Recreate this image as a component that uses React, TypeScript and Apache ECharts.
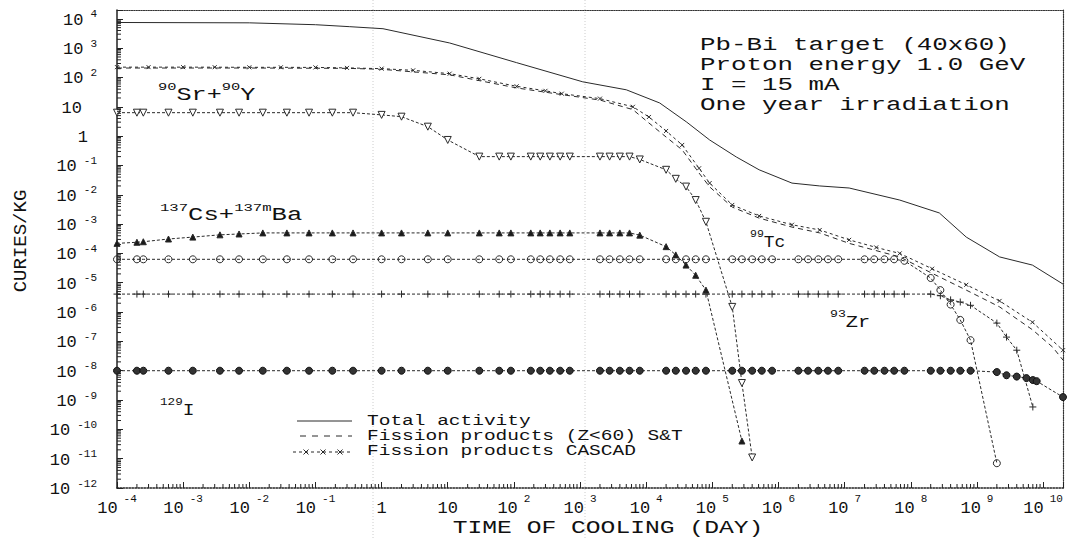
import React, { useEffect, useRef } from "react";
import * as echarts from "echarts";

// ---------- axes ----------
const X_MIN = 1e-4;
const X_MAX = 2e10;
const Y_MIN = 1e-12;
const Y_MAX = 2e4;
const xDecades = [-4, -3, -2, -1, 0, 1, 2, 3, 4, 5, 6, 7, 8, 9, 10];
const yDecades = [-12, -11, -10, -9, -8, -7, -6, -5, -4, -3, -2, -1, 0, 1, 2, 3, 4];

// ---------- data (time of cooling in days, activity in Ci/kg) ----------
const times = [
  1e-4, 2e-4, 2.5e-4, 6e-4, 1.4e-3, 3.6e-3, 7e-3, 1.6e-2, 3.7e-2, 8e-2,
  0.18, 0.37, 1, 2, 5, 10, 30, 60, 90, 180,
  250, 350, 500, 700, 2e3, 2.8e3, 4e3, 5.6e3, 8e3, 2e4,
  2.8e4, 4e4, 5.6e4, 8e4, 2e5, 2.8e5, 4e5, 5.6e5, 8e5, 2e6,
  2.8e6, 4e6, 5.6e6, 8e6, 2e7, 2.8e7, 4e7, 5.6e7, 8e7, 2e8,
  2.8e8, 4e8, 5.6e8, 8e8, 2e9, 2.8e9, 4e9, 5.6e9, 7e9, 8e9,
  2e10,
];

const srY = [
  6.3, 6.3, 6.3, 6.3, 6.3, 6.3, 6.3, 6.3, 6.3, 6.3,
  6.3, 6.3, 5.3, 4.6, 2.1, 0.74, 0.2, 0.2, 0.2, 0.2,
  0.2, 0.2, 0.2, 0.2, 0.2, 0.2, 0.2, 0.2, 0.16, 0.071,
  0.035, 0.019, 0.0066, 0.0012, 1.5e-6, 3.8e-9, 1.1e-11, null, null, null,
  null, null, null, null, null, null, null, null, null, null,
  null, null, null, null, null, null, null, null, null, null,
  null,
];

const csBa = [
  2.2e-4, 2.4e-4, 2.5e-4, 3.1e-4, 3.6e-4, 4.3e-4, 4.6e-4, 5e-4, 5e-4, 5e-4,
  5e-4, 5e-4, 5e-4, 5e-4, 5e-4, 5e-4, 5e-4, 5e-4, 5e-4, 5e-4,
  5e-4, 5e-4, 5e-4, 5e-4, 5e-4, 5e-4, 5e-4, 5e-4, 4.2e-4, 1.7e-4,
  8.9e-5, 4e-5, 1.8e-5, 5.6e-6, null, 4e-11, null, null, null, null,
  null, null, null, null, null, null, null, null, null, null,
  null, null, null, null, null, null, null, null, null, null,
  null,
];

const tc99 = [
  6.3e-5, 6.3e-5, 6.3e-5, 6.3e-5, 6.3e-5, 6.3e-5, 6.3e-5, 6.3e-5, 6.3e-5, 6.3e-5,
  6.3e-5, 6.3e-5, 6.3e-5, 6.3e-5, 6.3e-5, 6.3e-5, 6.3e-5, 6.3e-5, 6.3e-5, 6.3e-5,
  6.3e-5, 6.3e-5, 6.3e-5, 6.3e-5, 6.3e-5, 6.3e-5, 6.3e-5, 6.3e-5, 6.3e-5, 6.3e-5,
  6.3e-5, 6.3e-5, 6.3e-5, 6.3e-5, 6.3e-5, 6.3e-5, 6.3e-5, 6.3e-5, 6.3e-5, 6.3e-5,
  6.3e-5, 6.3e-5, 6.3e-5, 6.3e-5, 6.3e-5, 6.3e-5, 6.3e-5, 6.3e-5, 5.6e-5, 1.45e-5,
  5.6e-6, 1.8e-6, 5.4e-7, 1.1e-7, 7e-12, null, null, null, null, null,
  null,
];

const zr93 = [
  4.1e-6, 4.1e-6, 4.1e-6, 4.1e-6, 4.1e-6, 4.1e-6, 4.1e-6, 4.1e-6, 4.1e-6, 4.1e-6,
  4.1e-6, 4.1e-6, 4.1e-6, 4.1e-6, 4.1e-6, 4.1e-6, 4.1e-6, 4.1e-6, 4.1e-6, 4.1e-6,
  4.1e-6, 4.1e-6, 4.1e-6, 4.1e-6, 4.1e-6, 4.1e-6, 4.1e-6, 4.1e-6, 4.1e-6, 4.1e-6,
  4.1e-6, 4.1e-6, 4.1e-6, 4.1e-6, 4.1e-6, 4.1e-6, 4.1e-6, 4.1e-6, 4.1e-6, 4.1e-6,
  4.1e-6, 4.1e-6, 4.1e-6, 4.1e-6, 4.1e-6, 4.1e-6, 4.1e-6, 4.1e-6, 4.1e-6, 4.1e-6,
  3.6e-6, 2.6e-6, 2.2e-6, 1.7e-6, 4.2e-7, 1.4e-7, 5e-8, null, 5.8e-10, null,
  null,
];

const i129 = [
  1e-8, 1e-8, 1e-8, 1e-8, 1e-8, 1e-8, 1e-8, 1e-8, 1e-8, 1e-8,
  1e-8, 1e-8, 1e-8, 1e-8, 1e-8, 1e-8, 1e-8, 1e-8, 1e-8, 1e-8,
  1e-8, 1e-8, 1e-8, 1e-8, 1e-8, 1e-8, 1e-8, 1e-8, 1e-8, 1e-8,
  1e-8, 1e-8, 1e-8, 1e-8, 1e-8, 1e-8, 1e-8, 1e-8, 1e-8, 1e-8,
  1e-8, 1e-8, 1e-8, 1e-8, 1e-8, 1e-8, 1e-8, 1e-8, 1e-8, 1e-8,
  1e-8, 1e-8, 1e-8, 1e-8, 9e-9, 7e-9, 6.3e-9, 5.6e-9, 4.8e-9, 4.4e-9,
  1.26e-9,
];

const totalActivity = [
  [1e-4, 7.5e3], [1e-2, 7.3e3], [0.1, 6.3e3], [0.33, 5.4e3], [1.05, 4.6e3],
  [10.7, 1.5e3], [110, 320], [1100, 71], [5000, 38], [1.6e4, 13.5],
  [4.1e4, 3.0], [9.1e4, 0.74], [2.3e5, 0.195], [5.1e5, 0.071], [1.6e6, 0.025],
  [4.2e6, 0.02], [1.17e7, 0.017], [6.8e7, 0.0066], [2.7e8, 0.0024], [6.9e8, 3.6e-4],
  [2.2e9, 7.6e-5], [6.9e9, 4e-5], [2e10, 9e-6],
];

const fissionST = [
  [1e-4, 210], [1e-2, 210], [0.3, 205], [1, 190], [10.7, 123], [110, 44],
  [530, 26], [2e3, 17], [6.3e3, 8], [1.1e4, 2.8], [2e4, 0.93], [3.5e4, 0.34],
  [6.3e4, 0.055], [9.1e4, 0.0186], [2e5, 0.0038], [5.1e5, 1.6e-3], [1.6e6, 7.9e-4],
  [4.2e6, 5e-4], [1.17e7, 2.2e-4], [6.8e7, 7.6e-5], [2.1e8, 2.1e-5], [6.9e8, 5.6e-6],
  [2.2e9, 1.5e-6], [6.9e9, 2.5e-7], [1.4e10, 6.3e-8], [2e10, 2.3e-8],
];

const fissionCascad = [
  [1e-4, 225], [3e-4, 225], [1e-3, 225], [3e-3, 224], [1e-2, 222], [3e-2, 222],
  [0.1, 220], [0.3, 212], [1, 200], [3, 175], [10.7, 135], [30, 90], [110, 50],
  [300, 35], [530, 28], [2e3, 19], [6.3e3, 10], [1.1e4, 4.5], [2e4, 1.5], [3.5e4, 0.5],
  [6.3e4, 0.08], [9.1e4, 0.025], [2e5, 0.0045], [5.1e5, 1.9e-3], [1.6e6, 9.5e-4],
  [4.2e6, 6.3e-4], [1.17e7, 2.9e-4], [3e7, 1.6e-4], [6.8e7, 1e-4], [2.1e8, 3e-5],
  [6.9e8, 8.5e-6], [2.2e9, 2.4e-6], [6.9e9, 4.5e-7], [2e10, 5e-8],
];

const infoLines = ["Pb-Bi target (40x60)", "Proton energy 1.0 GeV", "I = 15 mA", "One year irradiation"];
const legendNames = ["Total activity", "Fission products (Z<60) S&T", "Fission products CASCAD"];
const xTitle = "TIME OF COOLING (DAY)";
const yTitle = "CURIES/KG";

// ---------- styling ----------
const FONT = '"Liberation Mono", "DejaVu Sans Mono", monospace';
const INK = "#111";
const LINE = "#2a2a2a";
const X_PATH = "path://M0,0L10,10M10,0L0,10";
const PLUS_PATH = "path://M5,0L5,10M0,5L10,5";

const decadeOf = (v: number): number | null => {
  const l = Math.log10(v);
  const e = Math.round(l);
  return Math.abs(l - e) < 1e-6 ? e : null;
};

const xLabel = (v: number) => {
  const e = decadeOf(v);
  if (e === null || !xDecades.includes(e)) return "";
  if (e === 0) return "{b|1}";
  if (e === 1) return "{b|10}";
  return `{b|10}{s|${e}}`;
};
const yLabel = (v: number) => {
  const e = decadeOf(v);
  if (e === null || !yDecades.includes(e)) return "";
  if (e === 0) return "{b|1}{p1| }";
  if (e === 1) return "{b|10}{p2| }";
  return `{b|10}{s|${e}}`;
};

const xRich = {
  b: { fontFamily: FONT, fontSize: 17, color: INK, lineHeight: 24, verticalAlign: "bottom" },
  s: { fontFamily: FONT, fontSize: 11, color: INK, verticalAlign: "top", padding: [0, 0, 0, 6] },
};
const yRich = {
  b: { fontFamily: FONT, fontSize: 17, color: INK, lineHeight: 20, verticalAlign: "bottom" },
  s: { fontFamily: FONT, fontSize: 11, color: INK, verticalAlign: "top", padding: [0, 0, 0, 7] },
  p1: { width: 9 },
  p2: { width: 15 },
};

const isoRich = (main: number, sup: number) => ({
  m: { fontFamily: FONT, fontSize: main, fill: INK, lineHeight: 22, verticalAlign: "bottom" },
  s: { fontFamily: FONT, fontSize: sup, fill: INK, verticalAlign: "top" },
});

const buildMinorTicks = () => {
  const xs: number[][] = [];
  for (let k = -4; k <= 10; k++) {
    for (let m = 2; m <= 9; m++) {
      const v = m * Math.pow(10, k);
      if (v < X_MAX) xs.push([v, Y_MIN]);
    }
  }
  const ys: number[][] = [];
  for (let k = -12; k <= 4; k++) {
    for (let m = 2; m <= 9; m++) {
      const v = m * Math.pow(10, k);
      if (v < Y_MAX) ys.push([X_MIN, v]);
    }
  }
  return { xs, ys };
};

const pairs = (vals: (number | null)[]) =>
  times.map((t, i) => [t, vals[i]]).filter((d) => d[1] !== null);

function buildOption(): any {
  const { xs, ys } = buildMinorTicks();

  const isoSeries = (name: string, vals: (number | null)[], symbol: string, extra: any) => ({
    name,
    type: "line",
    data: pairs(vals),
    symbol,
    symbolSize: 7,
    showSymbol: true,
    lineStyle: { color: LINE, width: 1, type: [3, 2] },
    itemStyle: { color: "transparent", borderColor: LINE, borderWidth: 1 },
    z: 3,
    ...extra,
  });

  const textEl = (text: string, x: number, y: number, size: number, scaleX: number, extra: any = {}) => ({
    type: "text",
    x,
    y,
    scaleX,
    z: 10,
    style: {
      text,
      font: `${size}px ${FONT}`,
      fill: INK,
      align: "left",
      verticalAlign: "middle",
    },
    ...extra,
  });

  const isoLabel = (text: string, x: number, y: number, main: number, sup: number, scaleX: number) => ({
    type: "text",
    x,
    y,
    scaleX,
    z: 10,
    style: { text, rich: isoRich(main, sup), fill: INK, align: "left", verticalAlign: "middle" },
  });

  const xMark = (cx: number, cy: number) => ({
    type: "group",
    children: [
      { type: "line", shape: { x1: cx - 2.5, y1: cy - 2.5, x2: cx + 2.5, y2: cy + 2.5 }, style: { stroke: LINE, lineWidth: 1 } },
      { type: "line", shape: { x1: cx + 2.5, y1: cy - 2.5, x2: cx - 2.5, y2: cy + 2.5 }, style: { stroke: LINE, lineWidth: 1 } },
    ],
  });

  const frameAxis = { show: true, onZero: false, lineStyle: { color: "#333", width: 1.2, type: "dotted" } };

  return {
    animation: false,
    backgroundColor: "#ffffff",
    grid: { left: 117, right: 5, top: 10, bottom: 50, containLabel: false },
    xAxis: [
      {
        type: "log",
        logBase: 10,
        min: X_MIN,
        max: X_MAX,
        interval: 1,
        position: "bottom",
        axisLine: { show: true, onZero: false, lineStyle: { color: "#222", width: 1.5, type: "dotted" } },
        axisTick: { show: true, inside: true, length: 6, lineStyle: { color: "#222" } },
        axisLabel: { margin: 5, formatter: xLabel, rich: xRich, color: INK, showMinLabel: true, showMaxLabel: true },
        splitLine: { show: false },
        minorTick: { show: false },
      },
      {
        type: "log",
        logBase: 10,
        min: X_MIN,
        max: X_MAX,
        interval: 1,
        position: "top",
        axisLine: frameAxis,
        axisTick: { show: false },
        axisLabel: { show: false },
        splitLine: { show: false },
      },
    ],
    yAxis: [
      {
        type: "log",
        logBase: 10,
        min: Y_MIN,
        max: Y_MAX,
        interval: 1,
        position: "left",
        axisLine: { show: true, onZero: false, lineStyle: { color: "#222", width: 1.5 } },
        axisTick: { show: true, inside: true, length: 6, lineStyle: { color: "#222" } },
        axisLabel: { margin: 20, formatter: yLabel, rich: yRich, color: INK, showMinLabel: true, showMaxLabel: true },
        splitLine: { show: false },
      },
      {
        type: "log",
        logBase: 10,
        min: Y_MIN,
        max: Y_MAX,
        interval: 1,
        position: "right",
        axisLine: frameAxis,
        axisTick: { show: false },
        axisLabel: { show: false },
        splitLine: { show: false },
      },
    ],
    series: [
      {
        name: legendNames[0],
        type: "line",
        data: totalActivity,
        showSymbol: false,
        symbol: "none",
        lineStyle: { color: LINE, width: 1 },
        z: 3,
      },
      {
        name: legendNames[1],
        type: "line",
        data: fissionST,
        showSymbol: false,
        symbol: "none",
        lineStyle: { color: LINE, width: 1, type: [5, 4] },
        z: 3,
      },
      {
        name: legendNames[2],
        type: "line",
        data: fissionCascad,
        symbol: X_PATH,
        symbolSize: 4,
        showSymbol: true,
        lineStyle: { color: LINE, width: 1, type: [3, 3] },
        itemStyle: { color: "transparent", borderColor: LINE, borderWidth: 1 },
        z: 3,
      },
      isoSeries("90Sr+90Y", srY, "triangle", { symbolRotate: 180, itemStyle: { color: "#fff", borderColor: LINE, borderWidth: 1 } }),
      isoSeries("137Cs+137mBa", csBa, "triangle", { symbolSize: 6, itemStyle: { color: "#1a1a1a", borderColor: LINE, borderWidth: 1 } }),
      isoSeries("99Tc", tc99, "circle", {}),
      isoSeries("93Zr", zr93, PLUS_PATH, {}),
      isoSeries("129I", i129, "circle", { symbolSize: 7, itemStyle: { color: "#333", borderColor: "#111", borderWidth: 1 } }),
      {
        type: "custom",
        silent: true,
        clip: false,
        z: 4,
        data: xs,
        renderItem: (_p: any, api: any) => {
          const p = api.coord([api.value(0), api.value(1)]);
          return { type: "line", shape: { x1: p[0], y1: p[1], x2: p[0], y2: p[1] - 4 }, style: { stroke: "#222", lineWidth: 1 } };
        },
      },
      {
        type: "custom",
        silent: true,
        clip: false,
        z: 4,
        data: ys,
        renderItem: (_p: any, api: any) => {
          const p = api.coord([api.value(0), api.value(1)]);
          return { type: "line", shape: { x1: p[0], y1: p[1], x2: p[0] + 4, y2: p[1] }, style: { stroke: "#222", lineWidth: 1 } };
        },
      },
    ],
    graphic: [
      { type: "line", z: -1, shape: { x1: 373, y1: 0, x2: 373, y2: 538 }, style: { stroke: "#cccccc", lineWidth: 1, lineDash: [1, 2] } },
      { type: "line", z: -1, shape: { x1: 585, y1: 0, x2: 585, y2: 538 }, style: { stroke: "#cccccc", lineWidth: 1, lineDash: [1, 2] } },
      textEl(infoLines[0], 700, 45, 19, 1.36),
      textEl(infoLines[1], 700, 65, 19, 1.36),
      textEl(infoLines[2], 700, 85, 19, 1.36),
      textEl(infoLines[3], 700, 105, 19, 1.36),
      // legend
      { type: "line", z: 10, shape: { x1: 297, y1: 421, x2: 352, y2: 421 }, style: { stroke: LINE, lineWidth: 1 } },
      { type: "line", z: 10, shape: { x1: 300, y1: 436, x2: 352, y2: 436 }, style: { stroke: LINE, lineWidth: 1, lineDash: [6, 6] } },
      { type: "line", z: 10, shape: { x1: 293, y1: 452, x2: 353, y2: 452 }, style: { stroke: LINE, lineWidth: 1, lineDash: [3, 3] } },
      xMark(306, 452),
      xMark(323, 452),
      xMark(340, 452),
      textEl(legendNames[0], 367, 421, 15, 1.3),
      textEl(legendNames[1], 367, 436, 15, 1.3),
      textEl(legendNames[2], 367, 451, 15, 1.3),
      // isotope labels
      isoLabel("{s|90}{m|Sr+}{s|90}{m|Y}", 158, 93, 18, 11, 1.4),
      isoLabel("{s|137}{m|Cs+}{s|137m}{m|Ba}", 160, 214, 18, 11, 1.42),
      isoLabel("{s|99}{m|Tc}", 750, 240, 17, 11, 1.05),
      isoLabel("{s|93}{m|Zr}", 830, 320, 17, 11, 1.2),
      isoLabel("{s|129}{m|I}", 160, 408, 17, 11, 1.15),
      // titles
      {
        type: "text",
        x: 608,
        y: 528,
        scaleX: 1.37,
        z: 10,
        style: { text: xTitle, font: `18px ${FONT}`, fill: INK, align: "center", verticalAlign: "middle" },
      },
      {
        type: "text",
        x: 21,
        y: 241,
        rotation: Math.PI / 2,
        z: 10,
        style: { text: yTitle, font: `19px ${FONT}`, fill: INK, align: "center", verticalAlign: "middle" },
      },
    ],
  };
}

export default function App() {
  const ref = useRef<HTMLDivElement>(null);
  useEffect(() => {
    if (!ref.current) return;
    const chart = echarts.init(ref.current, undefined, { renderer: "svg" });
    chart.setOption(buildOption());
    return () => {
      chart.dispose();
    };
  }, []);
  return (
    <div
      ref={ref}
      style={{ position: "absolute", left: 0, top: 0, width: 1068, height: 538, background: "#fff" }}
    />
  );
}
